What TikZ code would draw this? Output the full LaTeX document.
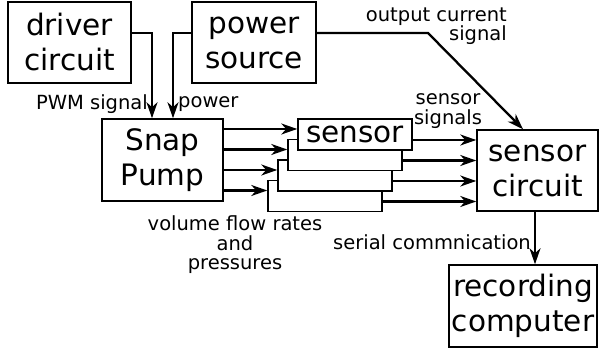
\documentclass[tikz,border=0pt]{standalone}
\usepackage{fontspec}
\setmainfont{DejaVu Sans}
\usetikzlibrary{arrows.meta,calc}
\begin{document}
\begin{tikzpicture}[x=1pt,y=-1pt,
  box/.style={draw,line width=1.5pt,fill=white,inner sep=0pt,align=center,
    font=\fontsize{29.5}{35}\selectfont},
  sbox/.style={draw,line width=1.5pt,fill=white,inner sep=0pt,
    minimum width=114pt,minimum height=31pt,font=\fontsize{29.5}{35}\selectfont},
  lbl/.style={inner sep=0pt,align=center,font=\fontsize{19.5}{19.5}\selectfont},
  arr/.style={line width=2.3pt,-{Stealth[length=16pt,width=11pt,inset=5pt]}}]
\useasboundingbox (0,0) rectangle (602,352);
\node[box,minimum width=123pt,minimum height=81pt] (drv) at (69.5,42.5) {driver\\circuit};
\node[box,minimum width=124pt,minimum height=81pt] (pwr) at (254,42.5) {power\\source};
\node[box,minimum width=121pt,minimum height=82pt] (snap) at (162.5,160) {Snap\\Pump};
\node[sbox] (s4) at (325,196) {};
\node[sbox] (s3) at (335,175.5) {};
\node[sbox] (s2) at (345,155) {};
\node[sbox] (s1) at (355,134.5) {sensor};
\node[box,minimum width=121pt,minimum height=81pt] (sc) at (537.5,170.5) {sensor\\circuit};
\node[box,minimum width=148pt,minimum height=82pt] (rec) at (523,306) {recording\\computer};
% inputs to Snap Pump
\draw[arr] ([yshift=9.5pt]drv.east) -| ([xshift=-10.5pt]snap.north);
\draw[arr] ([yshift=9.5pt]pwr.west) -| ([xshift=10.5pt]snap.north);
\coordinate (bend) at (428,33);
\draw[arr] ([yshift=9.5pt]pwr.east) -- (bend) -- ([xshift=-14.5pt]sc.north);
% pump to sensors
\foreach \i in {1,2,3,4}{
  \coordinate (in\i) at ([yshift=5.5pt]s\i.west);
  \coordinate (out\i) at ([yshift=-5.5pt]s\i.east);
  \draw[arr] (snap.east |- in\i) -- (in\i);
  \draw[arr] (out\i) -- (sc.west |- out\i);
}
\draw[arr] ([xshift=-2.5pt]sc.south) -- ([xshift=-2.5pt]sc.south |- rec.north);
% labels
\node[lbl,anchor=east] (lpwm) at (148,104) {PWM signal};
\node[lbl,anchor=west] (lpow) at (178,104) {power};
\node[lbl,anchor=east,align=right] (lout) at (507,26) {output current\\signal};
\node[lbl] (lsen) at (448,111) {sensor\\signals};
\node[lbl] (lvol) at (235,245) {volume flow rates\\and\\pressures};
\node[lbl,anchor=east] (lser) at (531,242) {serial commnication};
\end{tikzpicture}
\end{document}
